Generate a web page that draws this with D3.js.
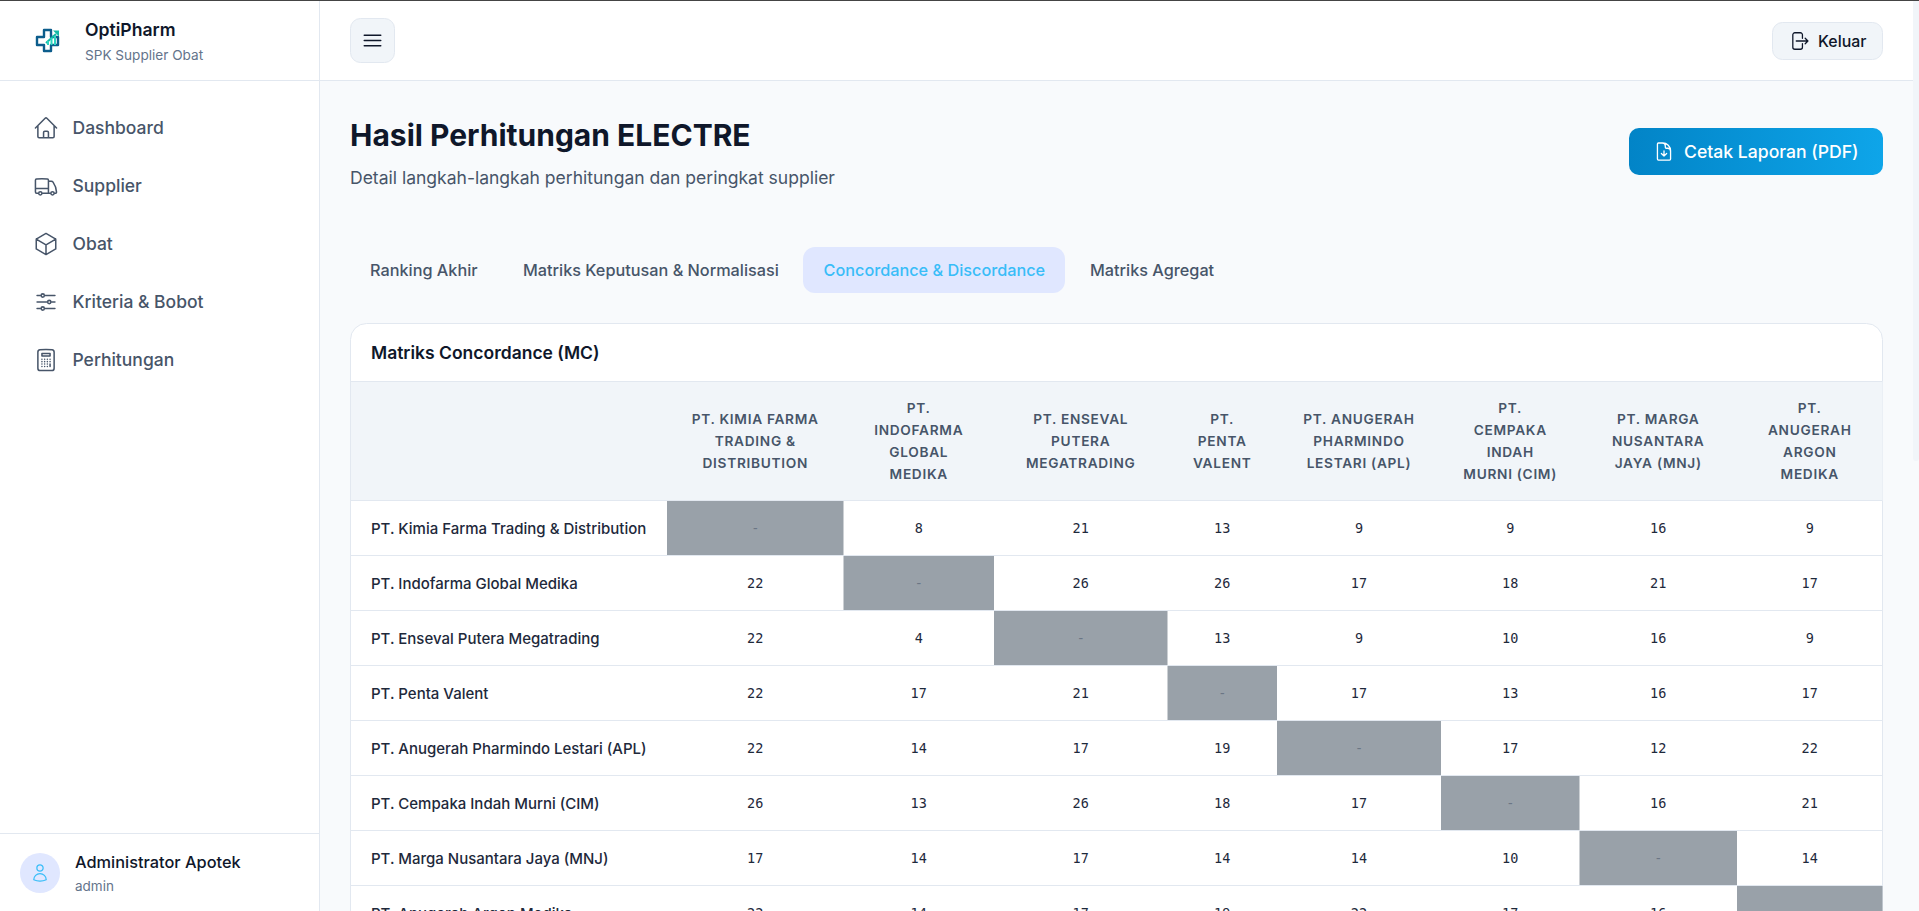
<!DOCTYPE html>
<html>
<head>
<meta charset="utf-8">
<script src="https://cdn.jsdelivr.net/npm/d3@7"></script>
<style>
html, body { margin: 0; padding: 0; overflow: hidden; background: #f8fafc; }
svg { display: block; font-family: Inter, sans-serif; }
</style>
</head>
<body>
<div id="canvas"></div>
<script>
// data
const navItems = ['Dashboard', 'Supplier', 'Obat', 'Kriteria & Bobot', 'Perhitungan'];
const tabs = ['Ranking Akhir', 'Matriks Keputusan & Normalisasi', 'Concordance & Discordance', 'Matriks Agregat'];
const rowNames = [
    'PT. Kimia Farma Trading & Distribution',
    'PT. Indofarma Global Medika',
    'PT. Enseval Putera Megatrading',
    'PT. Penta Valent',
    'PT. Anugerah Pharmindo Lestari (APL)',
    'PT. Cempaka Indah Murni (CIM)',
    'PT. Marga Nusantara Jaya (MNJ)',
    'PT. Anugerah Argon Medika'
];
const columnLabels = [
    ['PT. KIMIA FARMA', 'TRADING &', 'DISTRIBUTION'],
    ['PT.', 'INDOFARMA', 'GLOBAL', 'MEDIKA'],
    ['PT. ENSEVAL', 'PUTERA', 'MEGATRADING'],
    ['PT.', 'PENTA', 'VALENT'],
    ['PT. ANUGERAH', 'PHARMINDO', 'LESTARI (APL)'],
    ['PT.', 'CEMPAKA', 'INDAH', 'MURNI (CIM)'],
    ['PT. MARGA', 'NUSANTARA', 'JAYA (MNJ)'],
    ['PT.', 'ANUGERAH', 'ARGON', 'MEDIKA']
];
const kimiaRow = [null, 8, 21, 13, 9, 9, 16, 9];
const indofarmaRow = [22, null, 26, 26, 17, 18, 21, 17];
const ensevalRow = [22, 4, null, 13, 9, 10, 16, 9];
const pentaRow = [22, 17, 21, null, 17, 13, 16, 17];
const aplRow = [22, 14, 17, 19, null, 17, 12, 22];
const cimRow = [26, 13, 26, 18, 17, null, 16, 21];
const mnjRow = [17, 14, 17, 14, 14, 10, null, 14];
const argonRow = [22, 14, 17, 19, 22, 17, 16, null];
const matrix = [kimiaRow, indofarmaRow, ensevalRow, pentaRow, aplRow, cimRow, mnjRow, argonRow];

// icon outlines, 24 unit box
const navIcons = [
    'M2.25 12l8.954-8.955c.44-.439 1.152-.439 1.591 0L21.75 12M4.5 9.75v10.125c0 .621.504 1.125 1.125 1.125H9.75v-4.875c0-.621.504-1.125 1.125-1.125h2.25c.621 0 1.125.504 1.125 1.125V21h4.125c.621 0 1.125-.504 1.125-1.125V9.75M8.25 21h8.25',
    'M8.25 18.75a1.5 1.5 0 01-3 0m3 0a1.5 1.5 0 00-3 0m3 0h6m-9 0H3.375a1.125 1.125 0 01-1.125-1.125V14.25m17.25 4.5a1.5 1.5 0 01-3 0m3 0a1.5 1.5 0 00-3 0m3 0h1.125c.621 0 1.129-.504 1.09-1.124a17.902 17.902 0 00-3.213-9.193 2.056 2.056 0 00-1.58-.86H14.25M16.5 18.75h-2.25m0-11.177v-.958c0-.568-.422-1.048-.987-1.106a48.554 48.554 0 00-10.026 0 1.106 1.106 0 00-.987 1.106v7.635m12-6.677v6.677m0 4.5v-4.5m0 0h-12',
    'M21 7.5l-9-5.25L3 7.5m18 0l-9 5.25m9-5.25v9l-9 5.25M3 7.5l9 5.25M3 7.5v9l9 5.25m0-9v9',
    'M10.5 6h9.75M10.5 6a1.5 1.5 0 11-3 0m3 0a1.5 1.5 0 10-3 0M3.75 6H7.5m3 12h9.75m-9.75 0a1.5 1.5 0 01-3 0m3 0a1.5 1.5 0 00-3 0m-3.75 0H7.5m9-6h3.75m-3.75 0a1.5 1.5 0 01-3 0m3 0a1.5 1.5 0 00-3 0m-9.75 0h9.75',
    'M15.75 15.75V18m-7.5-6.75h.008v.008H8.25v-.008zm0 2.25h.008v.008H8.25V13.5zm0 2.25h.008v.008H8.25v-.008zm0 2.25h.008v.008H8.25V18zm2.498-6.75h.007v.008h-.007v-.008zm0 2.25h.007v.008h-.007V13.5zm0 2.25h.007v.008h-.007v-.008zm0 2.25h.007v.008h-.007V18zm2.504-6.75h.008v.008h-.008v-.008zm0 2.25h.008v.008h-.008V13.5zm0 2.25h.008v.008h-.008v-.008zm0 2.25h.008v.008h-.008V18zm2.498-6.75h.008v.008h-.008v-.008zm0 2.25h.008v.008h-.008V13.5zM8.25 6h7.5v2.25h-7.5V6zM12 2.25c-1.892 0-3.758.11-5.593.322C5.307 2.7 4.5 3.65 4.5 4.757V19.5a2.25 2.25 0 002.25 2.25h10.5a2.25 2.25 0 002.25-2.25V4.757c0-1.108-.806-2.057-1.907-2.185A48.507 48.507 0 0012 2.25z'
];
const barsIcon = 'M3.75 6.75h16.5M3.75 12h16.5m-16.5 5.25h16.5';
const logoutIcon = 'M15.75 9V5.25A2.25 2.25 0 0013.5 3h-6a2.25 2.25 0 00-2.25 2.25v13.5A2.25 2.25 0 007.5 21h6a2.25 2.25 0 002.25-2.25V15m3 0l3-3m0 0l-3-3m3 3H9';
const docIcon = 'M19.5 14.25v-2.625a3.375 3.375 0 00-3.375-3.375h-1.5A1.125 1.125 0 0113.5 7.125v-1.5a3.375 3.375 0 00-3.375-3.375H8.25m3.75 9v6m0 0l-3-3m3 3l3-3M10.5 2.25H5.625c-.621 0-1.125.504-1.125 1.125v17.25c0 .621.504 1.125 1.125 1.125h12.75c.621 0 1.125-.504 1.125-1.125V11.25a9 9 0 00-9-9z';
const userIcon = 'M15.75 6a3.75 3.75 0 11-7.5 0 3.75 3.75 0 017.5 0zM4.501 20.118a7.5 7.5 0 0114.998 0A17.933 17.933 0 0112 21.75c-2.676 0-5.216-.584-7.499-1.632z';

const svg = d3.select('#canvas').append('svg')
    .attr('width', 1919)
    .attr('height', 911);

const defs = svg.append('defs');
const grad = defs.append('linearGradient').attr('id', 'btnGrad');
grad.append('stop').attr('offset', '0%').attr('stop-color', '#0284c7');
grad.append('stop').attr('offset', '100%').attr('stop-color', '#0ea5e9');

// helpers
function label(parent, x, y, str, size, weight, fill, anchor) {
    return parent.append('text')
        .attr('x', x)
        .attr('y', y)
        .attr('dy', '0.36em')
        .attr('font-size', size)
        .attr('font-weight', weight)
        .attr('fill', fill)
        .attr('text-anchor', anchor || 'start')
        .text(str);
}

function icon(parent, path, cx, cy, size, stroke, width) {
    parent.append('path')
        .attr('d', path)
        .attr('transform', `translate(${cx - size / 2},${cy - size / 2}) scale(${size / 24})`)
        .attr('fill', 'none')
        .attr('stroke', stroke)
        .attr('stroke-width', width)
        .attr('stroke-linecap', 'round')
        .attr('stroke-linejoin', 'round');
}

// page
svg.append('rect').attr('width', 1919).attr('height', 911).attr('fill', '#f8fafc');

// scrollbar
svg.append('rect').attr('x', 1913).attr('y', 0).attr('width', 6).attr('height', 461).attr('rx', 3).attr('fill', '#f1f5f9');

// top bar
svg.append('rect').attr('x', 320).attr('y', 0).attr('width', 1593).attr('height', 81).attr('fill', '#ffffff');
svg.append('line').attr('x1', 320).attr('x2', 1913).attr('y1', 80.5).attr('y2', 80.5).attr('stroke', '#e2e8f0');
svg.append('rect').attr('x', 0).attr('y', 0).attr('width', 1919).attr('height', 1).attr('fill', '#444444');

svg.append('rect').attr('x', 350.5).attr('y', 18.5).attr('width', 44).attr('height', 44).attr('rx', 10)
    .attr('fill', '#f1f5f9').attr('stroke', '#e2e8f0');
icon(svg, barsIcon, 372.5, 40.5, 24, '#0f172a', 1.5);

svg.append('rect').attr('x', 1772.5).attr('y', 22.5).attr('width', 110).attr('height', 37).attr('rx', 10)
    .attr('fill', '#f1f5f9').attr('stroke', '#e2e8f0');
icon(svg, logoutIcon, 1799, 41, 22, '#0f172a', 1.4);
label(svg, 1818, 41, 'Keluar', 15.9, 500, '#0f172a');

// sidebar
svg.append('rect').attr('y', 1).attr('width', 320).attr('height', 910).attr('fill', '#ffffff');
svg.append('line').attr('x1', 319.5).attr('x2', 319.5).attr('y1', 1).attr('y2', 911).attr('stroke', '#e2e8f0');
svg.append('line').attr('x1', 0).attr('x2', 320).attr('y1', 80.5).attr('y2', 80.5).attr('stroke', '#e2e8f0');
svg.append('line').attr('x1', 0).attr('x2', 320).attr('y1', 833.5).attr('y2', 833.5).attr('stroke', '#e2e8f0');

// logo
const logo = svg.append('g');
logo.append('path')
    .attr('d', 'M44 30h7v7h7v8h-7v6h-7v-6h-7v-8h7z')
    .attr('fill', 'none').attr('stroke', '#0c5d8c').attr('stroke-width', 2.4).attr('stroke-linejoin', 'round');
logo.append('path')
    .attr('d', 'M46 43l10-9')
    .attr('fill', 'none').attr('stroke', '#14b8a6').attr('stroke-width', 2);
logo.append('path').attr('d', 'M53 30.5h6v6z').attr('fill', '#14b8a6');
logo.append('path').attr('d', 'M47 45h2v-4h-2zM50.5 45h2v-7h-2zM54 45h2v-9h-2z').attr('fill', '#2dd4bf');

label(svg, 85, 30, 'OptiPharm', 17.6, 600, '#0f172a');
label(svg, 85, 55, 'SPK Supplier Obat', 13.6, 400, '#64748b');

const navY = d3.scalePoint().domain(navItems).range([128, 360]);
const navGroup = svg.append('g');
navGroup.selectAll('text')
    .data(navItems)
    .join('text')
    .attr('x', 72.5)
    .attr('y', d => navY(d))
    .attr('dy', '0.36em')
    .attr('font-size', 17.5)
    .attr('font-weight', 500)
    .attr('fill', '#475569')
    .text(d => d);
navItems.forEach((d, i) => icon(navGroup, navIcons[i], 46, navY(d), 26, '#475569', 1.4));

svg.append('circle').attr('cx', 40).attr('cy', 873).attr('r', 20).attr('fill', '#e0e7ff');
icon(svg, userIcon, 40, 873, 20, '#38bdf8', 1.5);
label(svg, 75, 862, 'Administrator Apotek', 16.35, 500, '#0f172a');
label(svg, 75, 886, 'admin', 13.5, 400, '#64748b');

// page head
label(svg, 350, 135, 'Hasil Perhitungan ELECTRE', 30, 700, '#0f172a');
label(svg, 350, 178, 'Detail langkah-langkah perhitungan dan peringkat supplier', 17.53, 400, '#475569');

svg.append('rect').attr('x', 1629).attr('y', 128).attr('width', 254).attr('height', 47).attr('rx', 10).attr('fill', 'url(#btnGrad)');
icon(svg, docIcon, 1664, 151.5, 21, '#ffffff', 1.5);
label(svg, 1684, 152, 'Cetak Laporan (PDF)', 17.6, 500, '#ffffff');

// tabs
svg.append('rect').attr('x', 803).attr('y', 247).attr('width', 262).attr('height', 46).attr('rx', 12).attr('fill', '#e0e7ff');
const tabX = d3.scaleOrdinal().domain(tabs).range([370, 523, 823.5, 1090]);
svg.append('g').selectAll('text')
    .data(tabs)
    .join('text')
    .attr('x', d => tabX(d))
    .attr('y', 270)
    .attr('dy', '0.36em')
    .attr('font-size', 16.25)
    .attr('font-weight', 500)
    .attr('fill', (d, i) => i === 2 ? '#38bdf8' : '#475569')
    .text(d => d);

// card
svg.append('rect').attr('x', 350.5).attr('y', 323.5).attr('width', 1532).attr('height', 700).attr('rx', 16)
    .attr('fill', '#ffffff').attr('stroke', '#e2e8f0');
label(svg, 371, 353, 'Matriks Concordance (MC)', 17.5, 600, '#0f172a');

// table scales
const columnEdges = [667, 843.5, 994, 1167.5, 1277, 1441, 1579.5, 1737, 1882.5];
const x = d3.scaleLinear().domain(d3.range(columnEdges.length)).range(columnEdges);
const y = d3.scaleBand().domain(rowNames).range([501, 941]);
const headerLine = 22;

// header row
svg.append('rect').attr('x', 351).attr('y', 381).attr('width', 1531.5).attr('height', 120).attr('fill', '#f1f5f9');
svg.append('line').attr('x1', 351).attr('x2', 1882.5).attr('y1', 381.5).attr('y2', 381.5).attr('stroke', '#e2e8f0');
svg.append('line').attr('x1', 351).attr('x2', 1882.5).attr('y1', 500.5).attr('y2', 500.5).attr('stroke', '#e2e8f0');

const heads = svg.append('g').selectAll('text')
    .data(columnLabels)
    .join('text')
    .attr('text-anchor', 'middle')
    .attr('font-size', 13.7)
    .attr('font-weight', 600)
    .attr('letter-spacing', '0.7')
    .attr('fill', '#475569');
heads.selectAll('tspan')
    .data((d, i) => d.map((t, j) => ({ t, j, n: d.length, i })))
    .join('tspan')
    .attr('x', d => (x(d.i) + x(d.i + 1)) / 2)
    .attr('y', d => 441.5 + (d.j - (d.n - 1) / 2) * headerLine)
    .attr('dy', '0.36em')
    .text(d => d.t);

// rows
const rows = svg.append('g').selectAll('g')
    .data(rowNames)
    .join('g')
    .attr('transform', d => `translate(0,${y(d)})`);

rows.append('line')
    .attr('x1', 351).attr('x2', 1882.5)
    .attr('y1', y.bandwidth() - 0.5).attr('y2', y.bandwidth() - 0.5)
    .attr('stroke', '#e2e8f0');

rows.append('text')
    .attr('x', 371)
    .attr('y', y.bandwidth() / 2)
    .attr('dy', '0.36em')
    .attr('font-size', 15)
    .attr('font-weight', 500)
    .attr('fill', '#1e293b')
    .text(d => d);

const cells = rows.selectAll('g')
    .data((d, r) => matrix[r].map((v, c) => ({ v, c })))
    .join('g');

cells.filter(d => d.v === null).append('rect')
    .attr('x', d => x(d.c))
    .attr('y', 0)
    .attr('width', d => x(d.c + 1) - x(d.c))
    .attr('height', y.bandwidth() - 1)
    .attr('fill', '#99a1a9');

cells.append('text')
    .attr('x', d => (x(d.c) + x(d.c + 1)) / 2)
    .attr('y', y.bandwidth() / 2)
    .attr('dy', '0.36em')
    .attr('text-anchor', 'middle')
    .attr('font-family', '"DejaVu Sans Mono", monospace')
    .attr('font-size', 13.5)
    .attr('fill', d => d.v === null ? '#6b7685' : '#1e293b')
    .text(d => d.v === null ? '-' : d.v);
</script>
</body>
</html>
